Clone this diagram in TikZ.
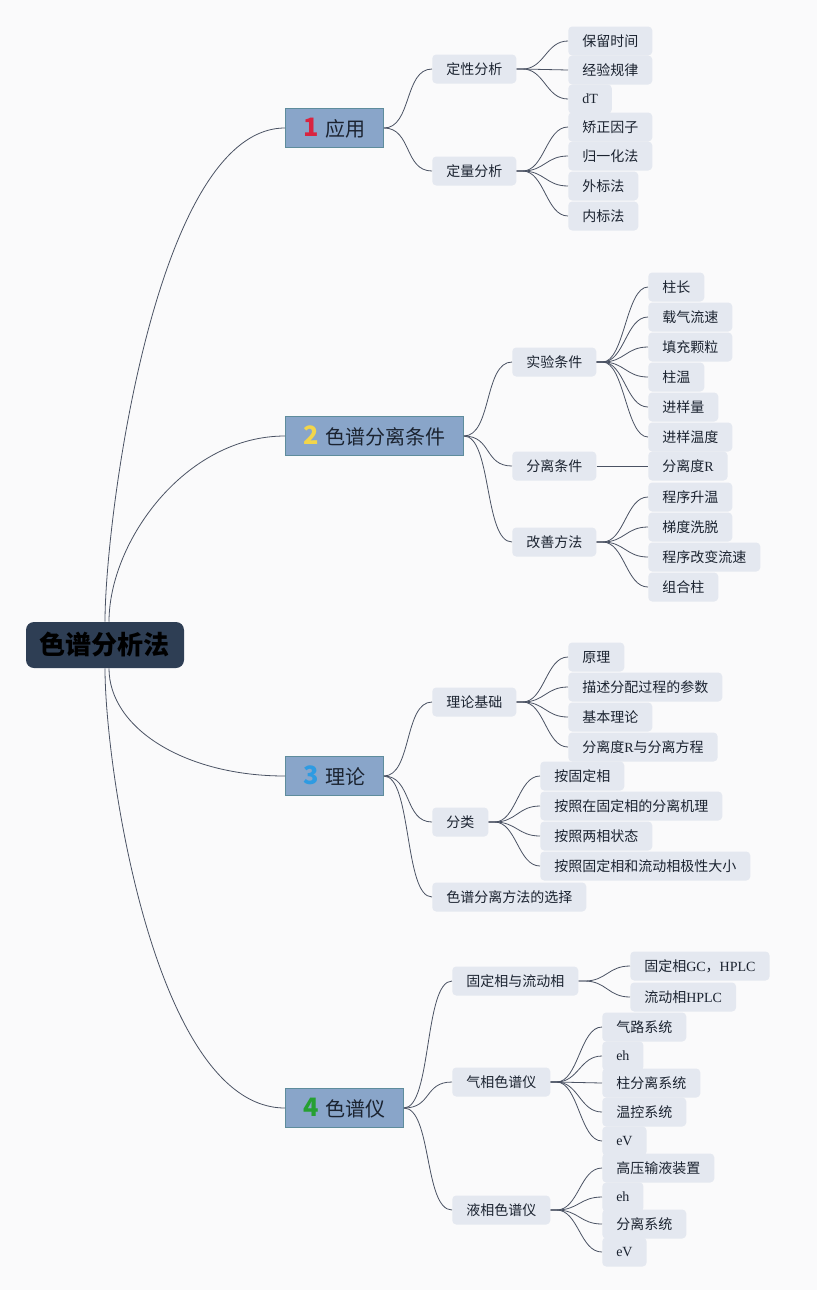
\documentclass[tikz,border=0pt]{standalone}
\usepackage{fontspec}
\setmainfont{Liberation Serif}
\newfontfamily\cjk{Noto Sans CJK SC}
\usepackage{tikz}
\usetikzlibrary{positioning}
\definecolor{canvas}{HTML}{FAFAFB}
\definecolor{ink}{HTML}{1B2330}
\definecolor{wire}{HTML}{4A5263}
\definecolor{navy}{HTML}{2E3E54}
\definecolor{steel}{HTML}{89A5C9}
\definecolor{steeledge}{HTML}{5E8C9C}
\definecolor{mist}{HTML}{E4E8F0}
\definecolor{numred}{HTML}{D92440}
\definecolor{numyellow}{HTML}{F2D54A}
\definecolor{numblue}{HTML}{2E9BE2}
\definecolor{numgreen}{HTML}{26A032}
\newcommand\lat[1]{{\rmfamily #1}}
\newcommand\badge[2]{{\bfseries\fontsize{19pt}{20pt}\selectfont\color{#1}#2}\hspace{5pt}}
\tikzset{
  every node/.style={text=ink},
  rootbox/.style={fill=navy,rounded corners=6pt,minimum width=118.5pt,minimum height=34.5pt,
    font=\cjk\bfseries\fontsize{19.5pt}{22pt}\selectfont,text=black},
  topic/.style={fill=steel,draw=steeledge,line width=0.6pt,minimum height=29.25pt,inner xsep=13.5pt,
    anchor=west,font=\cjk\fontsize{15pt}{18pt}\selectfont},
  leaf/.style={fill=mist,rounded corners=3pt,minimum height=21.75pt,inner xsep=10.5pt,inner ysep=2pt,
    anchor=west,font=\cjk\fontsize{10.5pt}{12pt}\selectfont},
  link/.style={draw=wire,line width=0.6pt}
}
\begin{document}
\begin{tikzpicture}[x=0.75pt,y=-0.75pt]
  \fill[canvas] (0,0) rectangle (817,1290);

  \node[rootbox] (root) at (105,645) {色谱分析法};

  \node[topic] (app) at (285,128) {\badge{numred}{1}应用};
  \node[topic] (sep) at (285,436) {\badge{numyellow}{2}色谱分离条件};
  \node[topic] (theo) at (285,776) {\badge{numblue}{3}理论};
  \node[topic] (inst) at (285,1108) {\badge{numgreen}{4}色谱仪};

  \node[leaf] (qual) at (432,69) {定性分析};
  \node[leaf] (quant) at (432,171) {定量分析};
  \node[leaf] (expc) at (512,362) {实验条件};
  \node[leaf] (sepc) at (512,466) {分离条件};
  \node[leaf] (impr) at (512,542) {改善方法};
  \node[leaf] (basis) at (432,702) {理论基础};
  \node[leaf] (cls) at (432,822) {分类};
  \node[leaf] (choice) at (432,897) {色谱分离方法的选择};
  \node[leaf] (phase) at (452,981) {固定相与流动相};
  \node[leaf] (gc) at (452,1082) {气相色谱仪};
  \node[leaf] (lc) at (452,1210) {液相色谱仪};

  \node[leaf] (qual1) at (568,41) {保留时间};
  \node[leaf] (qual2) at (568,70) {经验规律};
  \node[leaf] (qual3) at (568,99) {\lat{dT}};
  \node[leaf] (quant1) at (568,127) {矫正因子};
  \node[leaf] (quant2) at (568,156) {归一化法};
  \node[leaf] (quant3) at (568,186) {外标法};
  \node[leaf] (quant4) at (568,216) {内标法};

  \node[leaf] (expc1) at (648,287) {柱长};
  \node[leaf] (expc2) at (648,317) {载气流速};
  \node[leaf] (expc3) at (648,347) {填充颗粒};
  \node[leaf] (expc4) at (648,377) {柱温};
  \node[leaf] (expc5) at (648,407) {进样量};
  \node[leaf] (expc6) at (648,437) {进样温度};
  \node[leaf] (sepc1) at (648,466) {分离度\lat{R}};
  \node[leaf] (impr1) at (648,497) {程序升温};
  \node[leaf] (impr2) at (648,527) {梯度洗脱};
  \node[leaf] (impr3) at (648,557) {程序改变流速};
  \node[leaf] (impr4) at (648,587) {组合柱};

  \node[leaf] (basis1) at (568,657) {原理};
  \node[leaf] (basis2) at (568,687) {描述分配过程的参数};
  \node[leaf] (basis3) at (568,717) {基本理论};
  \node[leaf] (basis4) at (568,747) {分离度\lat{R}与分离方程};
  \node[leaf] (cls1) at (540,776) {按固定相};
  \node[leaf] (cls2) at (540,806) {按照在固定相的分离机理};
  \node[leaf] (cls3) at (540,836) {按照两相状态};
  \node[leaf] (cls4) at (540,866) {按照固定相和流动相极性大小};

  \node[leaf] (phase1) at (630,966) {固定相\lat{GC}，\lat{HPLC}};
  \node[leaf] (phase2) at (630,997) {流动相\lat{HPLC}};
  \node[leaf] (gc1) at (602,1027) {气路系统};
  \node[leaf] (gc2) at (602,1056) {\lat{eh}};
  \node[leaf] (gc3) at (602,1083) {柱分离系统};
  \node[leaf] (gc4) at (602,1112) {温控系统};
  \node[leaf] (gc5) at (602,1141) {\lat{eV}};
  \node[leaf] (lc1) at (602,1168) {高压输液装置};
  \node[leaf] (lc2) at (602,1197) {\lat{eh}};
  \node[leaf] (lc3) at (602,1224) {分离系统};
  \node[leaf] (lc4) at (602,1252) {\lat{eV}};

  \draw[link] (root.north) .. controls +(0,-100) and +(-130,0) .. (app.west);
  \draw[link] ([xshift=3pt]root.north) .. controls +(0,-80) and +(-100,0) .. (sep.west);
  \draw[link] ([xshift=3pt]root.south) .. controls +(0,60) and +(-100,0) .. (theo.west);
  \draw[link] (root.south) .. controls +(0,100) and +(-130,0) .. (inst.west);

  \foreach \p/\c in {app/qual,app/quant,sep/expc,sep/sepc,sep/impr,theo/basis,theo/cls,theo/choice,inst/phase,inst/gc,inst/lc}
    \draw[link] (\p.east) .. controls +(28,0) and +(-28,0) .. (\c.west);

  \foreach \p/\n in {qual/3,quant/4,expc/6,sepc/1,impr/4,basis/4,cls/4,phase/2,gc/5,lc/4}
    \foreach \i in {1,...,\n}
      \draw[link] (\p.east) -- ++(6,0) .. controls +(22,0) and +(-22,0) .. (\p\i.west);
\end{tikzpicture}
\end{document}
